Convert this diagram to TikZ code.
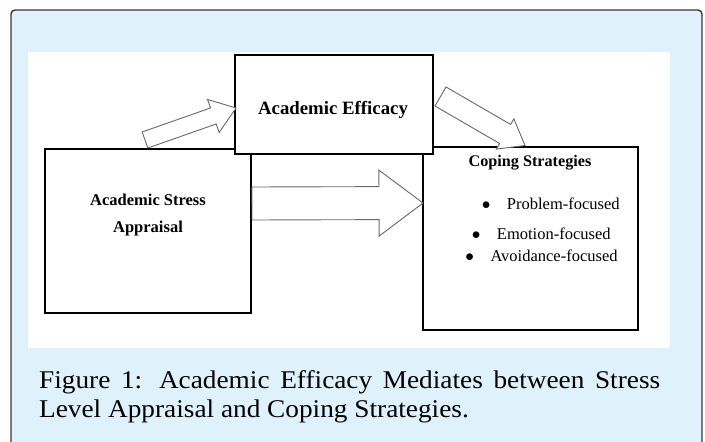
\documentclass[tikz,border=0pt]{standalone}
\usepackage{fontspec}
\setmainfont{Liberation Serif}
\newfontfamily\capfont{Liberation Serif}[FakeStretch=1.07]
\usetikzlibrary{positioning,calc}

\definecolor{panelblue}{RGB}{223,241,251}
\definecolor{framegray}{RGB}{55,55,55}
\definecolor{arrowgray}{RGB}{105,105,105}

% hollow block arrow: tail, tip, shaft half width, head half width, head length
\newcommand{\blockarrow}[5]{%
  \draw[blk] ($(#1)!#3!90:(#2)$) -- ($(#2)!#5!(#1)!#3!90:(#2)$)
    -- ($(#2)!#5!(#1)!#4!90:(#2)$) -- (#2)
    -- ($(#2)!#5!(#1)!#4!-90:(#2)$) -- ($(#2)!#5!(#1)!#3!-90:(#2)$)
    -- ($(#1)!#3!-90:(#2)$) -- cycle;}

\begin{document}
\begin{tikzpicture}[x=1pt, y=-1pt,
  box/.style={draw, line width=2.8pt, fill=white, outer sep=0pt, inner sep=0pt},
  head/.style={font=\bfseries\fontsize{16.5}{27.7}\selectfont, align=center, inner sep=0pt},
  item/.style={font=\fontsize{16.5}{20}\selectfont, anchor=base west, inner sep=0pt},
  blk/.style={draw=arrowgray, line width=0.9pt, fill=white, line join=miter}]
\useasboundingbox (0,0) rectangle (705,442);
\draw[framegray, line width=1.4pt, fill=panelblue, rounded corners=4pt] (11,10) rectangle (702,470);
\fill[white] (28,52) rectangle (670,348);

% the three boxes
\node[box, minimum width=206pt, minimum height=164pt] (stress) at (148,231) {};
\node[box, minimum width=215pt, minimum height=183pt] (coping) at (530.5,238.5) {};
\coordinate (midTail) at ($(stress.east)+(1,-27.5)$);
\coordinate (midTip) at ($(coping.west)+(0,-35.5)$);
\blockarrow{midTail}{midTip}{16.5pt}{33pt}{44pt}
\node[box, minimum width=198pt, minimum height=99pt] (efficacy) at (334,104.5) {};

\node[head] (stressText) at (148,215) {Academic Stress\\Appraisal};
\node[font=\bfseries\fontsize{18.8}{22}\selectfont, anchor=base, inner sep=0pt] (effText) at (333,114) {Academic Efficacy};
\node[font=\bfseries\fontsize{16.2}{20}\selectfont, anchor=base, inner sep=0pt] (copText) at (530,166.7) {Coping Strategies};
\node[item] (prob) at (481.6,209.3) {$\bullet$\hspace{16.5pt}Problem-focused};
\node[item] (emo) at (471.6,239.3) {$\bullet$\hspace{16.5pt}Emotion-focused};
\node[item] (avoid) at (465.2,261.7) {$\bullet$\hspace{16.5pt}Avoidance-focused};

% mediation arrows
\coordinate (upTail) at (145,140);
\coordinate (upTip) at ($(efficacy.west)+(1,3.5)$);
\coordinate (downTail) at (440.5,96.5);
\coordinate (downTip) at ($(coping.north)+(-5.5,-1.5)$);
\blockarrow{upTail}{upTip}{8.5pt}{17.5pt}{24pt}
\blockarrow{downTail}{downTip}{11pt}{17.5pt}{23pt}

\node[font=\capfont\fontsize{25.5}{29.4}\selectfont, text width=621pt, align=justify,
  anchor=base west, inner sep=0pt] (caption) at (39,388.3)
  {Figure 1: Academic Efficacy Mediates between Stress\linebreak Level Appraisal and Coping Strategies.};
\end{tikzpicture}
\end{document}
